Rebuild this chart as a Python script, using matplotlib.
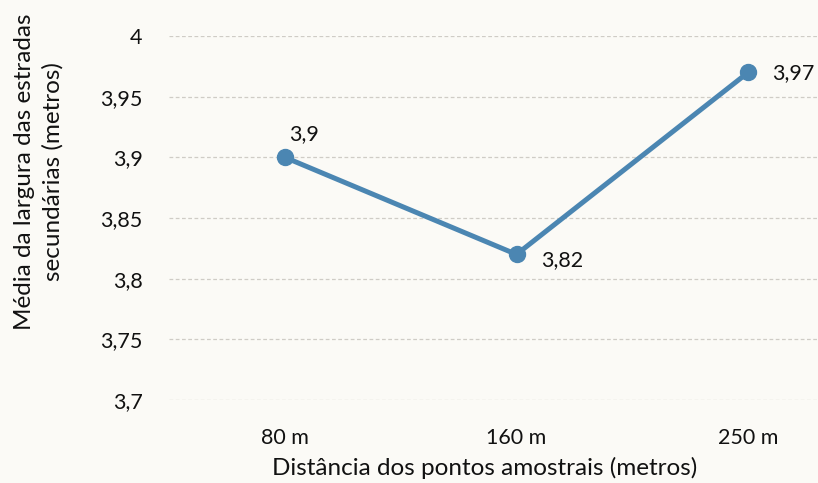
import matplotlib
matplotlib.use("Agg")
import matplotlib.pyplot as plt

categories = ["80 m", "160 m", "250 m"]
values = [3.90, 3.82, 3.97]
value_labels = ["3,9", "3,82", "3,97"]
y_ticks = [3.70, 3.75, 3.80, 3.85, 3.90, 3.95, 4.00]
y_tick_labels = ["3,7", "3,75", "3,8", "3,85", "3,9", "3,95", "4"]

plt.rcParams['font.family'] = ['Lato', 'DejaVu Sans']
FS = 15.5
TFS = 17.5

bg = "#fbfaf6"
fig = plt.figure(figsize=(8.18, 4.83), dpi=100, facecolor=bg)
W, H = 818, 483
left, right = 169, 864
top, bottom = 36, 400
ax = fig.add_axes([left / W, 1 - bottom / H, (right - left) / W, (bottom - top) / H])
ax.set_facecolor(bg)

x = list(range(len(categories)))
color = "#4b86b2"
ax.plot(x, values, color=color, lw=3.6, marker="o", ms=11.5, solid_capstyle="round", zorder=3)

offsets = [(3, 17), (18, -4.3), (17, -0.7)]
for xi, v, lab, off in zip(x, values, value_labels, offsets):
    ax.annotate(lab, (xi, v), xytext=off, textcoords="offset points",
                ha="left", va="center", fontsize=FS, color="#111111")

ax.set_xlim(-0.5, 2.5)
ax.set_ylim(3.70, 4.00)
ax.set_yticks(y_ticks)
ax.set_yticklabels(y_tick_labels)
ax.set_xticks(x)
ax.set_xticklabels(categories)
ax.tick_params(axis="y", length=0, pad=19, labelsize=FS, labelcolor="#111111")
ax.tick_params(axis="x", length=0, pad=20, labelsize=FS, labelcolor="#111111")
ax.yaxis.grid(True, color="#cfccc6", lw=0.9, linestyle=(0, (3, 2)))
ax.set_axisbelow(True)
for s in ax.spines.values():
    s.set_visible(False)

fig.text(485 / W, 1 - 468 / H, "Distância dos pontos amostrais (metros)",
         ha="center", va="center", fontsize=TFS, color="#111111")
fig.text(39 / W, 1 - 172 / H, "Média da largura das estradas\nsecundárias (metros)",
         ha="center", va="center", rotation=90, fontsize=TFS, color="#111111",
         linespacing=1.4)

fig.savefig("out.png", dpi=100, facecolor=bg)
